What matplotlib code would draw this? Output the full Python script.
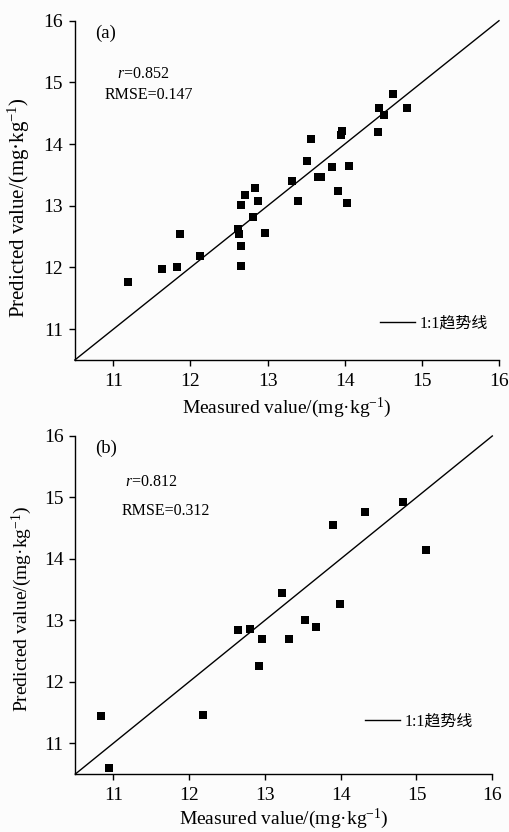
import matplotlib
matplotlib.use("Agg")
import matplotlib.pyplot as plt

plt.rcParams['font.family'] = ['Liberation Serif', 'Noto Sans CJK SC']
plt.rcParams['mathtext.fontset'] = 'custom'
plt.rcParams['mathtext.rm'] = 'Liberation Serif'
plt.rcParams['mathtext.it'] = 'Liberation Serif:italic'

# Panel (a) data
a_measured = [11.19, 11.63, 11.82, 11.86, 12.12, 12.61, 12.63, 12.65, 12.66, 12.66,
              12.71, 12.81, 12.84, 12.87, 12.96, 13.31, 13.39, 13.51, 13.56, 13.65,
              13.69, 13.84, 13.91, 13.95, 13.96, 14.06, 14.03, 14.43, 14.44, 14.51,
              14.81, 14.62]
a_predicted = [11.77, 11.97, 12.01, 12.55, 12.19, 12.62, 12.54, 13.02, 12.34, 12.02,
               13.18, 12.82, 13.29, 13.08, 12.56, 13.40, 13.07, 13.73, 14.09, 13.47,
               13.47, 13.63, 13.24, 14.14, 14.21, 13.64, 13.04, 14.19, 14.58, 14.47,
               14.58, 14.82]

# Panel (b) data
b_measured = [10.84, 10.95, 12.19, 12.65, 12.80, 12.92, 12.96, 13.22, 13.32, 13.53,
              13.68, 13.90, 13.99, 14.32, 14.82, 15.13]
b_predicted = [11.44, 10.60, 11.46, 12.85, 12.86, 12.25, 12.70, 13.45, 12.70, 13.01,
               12.90, 14.55, 13.26, 14.76, 14.93, 14.14]

ticks = [11, 12, 13, 14, 15, 16]
axis_min, axis_max = 10.5, 16
line_label = '1:1趋势线'
xlabel = 'Measured value/(mg·kg$^{-1}$)'
ylabel = 'Predicted value/(mg·kg$^{-1}$)'

fig = plt.figure(figsize=(5.10, 8.32), dpi=100)
fig.patch.set_facecolor('#fcfcfc')

panels = [
    dict(rect=[0.1467, 0.5673, 0.8317, 0.4078], x=a_measured, y=a_predicted,
         tag='(a)', r='0.852', rmse='0.147', ylab_size=15, ylab_y=0.45, xlab_y=-0.105,
         r_pos=(0.10, 0.843), rmse_pos=(0.071, 0.780), leg_anchor=(0.99, 0.064)),
    dict(rect=[0.1478, 0.0697, 0.8175, 0.4063], x=b_measured, y=b_predicted,
         tag='(b)', r='0.812', rmse='0.312', ylab_size=14, ylab_y=0.49, xlab_y=-0.097,
         r_pos=(0.119, 0.864), rmse_pos=(0.111, 0.779), leg_anchor=(0.97, 0.113)),
]

for p in panels:
    ax = fig.add_axes(p['rect'])
    ax.set_facecolor('#fcfcfc')
    ax.plot([axis_min, axis_max], [axis_min, axis_max], color='black', lw=1.0,
            label=line_label, clip_on=False)
    ax.scatter(p['x'], p['y'], marker='s', s=30, color='black', linewidths=0,
               zorder=3, clip_on=False)
    ax.set_xlim(axis_min, axis_max)
    ax.set_ylim(axis_min, axis_max)
    ax.set_xticks(ticks)
    ax.set_yticks(ticks)
    for s in ['top', 'right']:
        ax.spines[s].set_visible(False)
    for s in ['left', 'bottom']:
        ax.spines[s].set_linewidth(1.0)
    ax.tick_params(direction='out', length=4.5, width=1.0, labelsize=14, pad=4)
    ax.tick_params(axis='x', pad=5)
    ax.set_xlabel(xlabel, fontsize=14)
    ax.set_ylabel(ylabel, fontsize=p['ylab_size'])
    ax.yaxis.set_label_coords(-0.10, p['ylab_y'])
    ax.xaxis.set_label_coords(0.5, p['xlab_y'])
    ax.text(0.048, 0.964, p['tag'], transform=ax.transAxes, fontsize=13.5,
            va='center', ha='left')
    ax.text(p['r_pos'][0], p['r_pos'][1], '$\\mathit{r}$=' + p['r'],
            transform=ax.transAxes, fontsize=11.5, va='center', ha='left')
    ax.text(p['rmse_pos'][0], p['rmse_pos'][1], 'RMSE=' + p['rmse'],
            transform=ax.transAxes, fontsize=11.5, va='center', ha='left')
    ax.legend(loc='lower right', bbox_to_anchor=p['leg_anchor'], frameon=False,
              fontsize=11.5, handlelength=2.2, handletextpad=0.3, borderaxespad=0)

fig.savefig('out.png', dpi=100, facecolor=fig.get_facecolor())
